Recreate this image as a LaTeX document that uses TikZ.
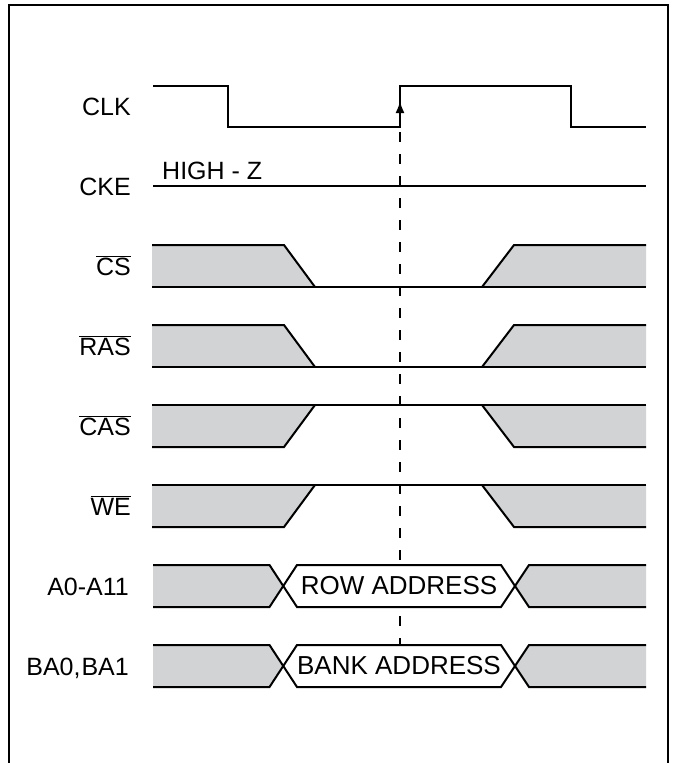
\documentclass[tikz,border=0pt]{standalone}
\usepackage{fontspec}
\setmainfont{Liberation Sans}
\usetikzlibrary{arrows.meta}
\definecolor{bandgray}{RGB}{209,211,212}
\newcommand{\ovl}[1]{$\overline{\mbox{#1}}$}

\begin{document}
\begin{tikzpicture}[x=1pt,y=-1pt,
  sig/.style={black,line width=2pt},
  mid/.style={black,line width=1.3pt},
  band/.style={fill=bandgray,draw=none},
  lbl/.style={anchor=base east,inner sep=0pt,font=\fontsize{25}{29}\selectfont},
  addr/.style={fill=white,inner sep=0pt,minimum width=200pt,minimum height=40pt,font=\fontsize{26}{30}\selectfont}]
  \useasboundingbox (0,0) rectangle (673,763);
  \draw[black,line width=1.5pt] (9,763) -- (9,5) -- (668,5) -- (668,763);

  % labels
  \node[lbl] (clk) at (131,115.7) {CLK};
  \node[lbl] (cke) at (131,195) {CKE};
  \node[lbl] (cs) at (131,275) {\ovl{CS}};
  \node[lbl] (ras) at (131,355) {\ovl{RAS}};
  \node[lbl] (cas) at (131,435) {\ovl{CAS}};
  \node[lbl] (we) at (131,515) {\ovl{WE}};
  \node[lbl] (addr) at (129,595) {A0-A11};
  \node[lbl] (bank) at (129,675) {BA0,\hspace{1pt}BA1};

  % clock and edge marker
  \coordinate (edge) at (400,127);
  \coordinate (edgetop) at (400,101);
  \coordinate (edgeend) at (400,645);
  \draw[black,line width=1.3pt,dash pattern=on 10pt off 12pt,dash phase=17pt] (edge) -- (edgeend);
  \draw[sig] (153,86) -- (228,86) -- (228,127) -- (400,127) -- (400,86) -- (571,86) -- (571,127) -- (646,127);
  \draw[black,line width=2pt,-{Latex[length=12pt,width=9pt]}] (edge) -- (edgetop);

  % cke
  \draw[sig] (153,186) -- (646,186);
  \node[anchor=base west,inner sep=0pt,font=\fontsize{25}{29}\selectfont] (hiz) at (162,179) {HIGH - Z};

  % low going commands
  \foreach \T in {245,325} {
    \fill[band] (152,\T) -- (284,\T) -- (315,\T+42) -- (152,\T+42) -- cycle;
    \fill[band] (646,\T) -- (514,\T) -- (482,\T+42) -- (646,\T+42) -- cycle;
    \draw[sig] (152,\T) -- (284,\T) -- (315,\T+42);
    \draw[sig] (646,\T) -- (514,\T) -- (482,\T+42);
    \draw[sig] (152,\T+42) -- (315,\T+42);
    \draw[mid] (315,\T+42) -- (482,\T+42);
    \draw[sig] (482,\T+42) -- (646,\T+42);
  }

  % high commands
  \foreach \T in {405,485} {
    \fill[band] (152,\T) -- (315,\T) -- (284,\T+42) -- (152,\T+42) -- cycle;
    \fill[band] (646,\T) -- (482,\T) -- (514,\T+42) -- (646,\T+42) -- cycle;
    \draw[sig] (152,\T) -- (315,\T);
    \draw[mid] (315,\T) -- (482,\T);
    \draw[sig] (482,\T) -- (646,\T);
    \draw[sig] (315,\T) -- (284,\T+42) -- (152,\T+42);
    \draw[sig] (482,\T) -- (514,\T+42) -- (646,\T+42);
  }

  % address buses
  \node[addr] (row) at (399,586) {ROW ADDRESS};
  \node[addr] (bk) at (399,666) {BANK ADDRESS};
  \foreach \T in {565,645} {
    \fill[band] (153,\T) -- (269.5,\T) -- (283,\T+21) -- (269.5,\T+42) -- (153,\T+42) -- cycle;
    \fill[band] (646,\T) -- (529,\T) -- (515,\T+21) -- (529,\T+42) -- (646,\T+42) -- cycle;
    \draw[sig] (153,\T) -- (269.5,\T) -- (297,\T+42) -- (501,\T+42) -- (529,\T) -- (646,\T);
    \draw[sig] (153,\T+42) -- (269.5,\T+42) -- (297,\T) -- (501,\T) -- (529,\T+42) -- (646,\T+42);
  }
\end{tikzpicture}
\end{document}
